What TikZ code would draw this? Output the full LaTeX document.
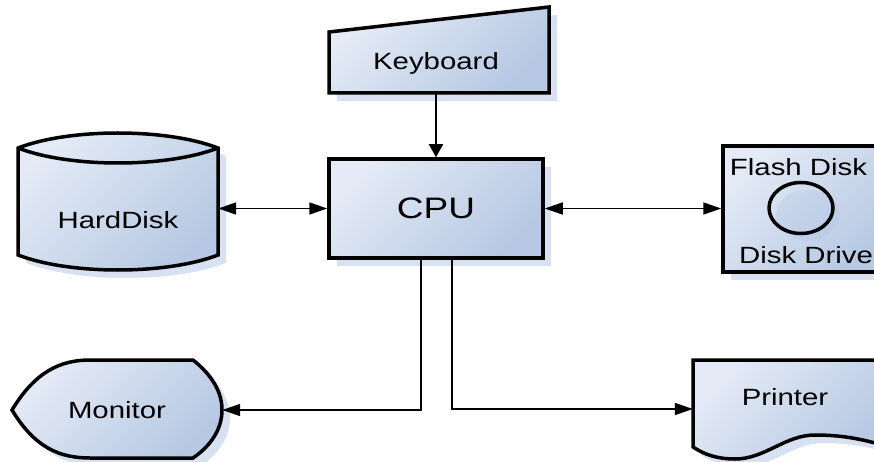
\documentclass[tikz,border=0pt]{standalone}
\usepackage{fontspec}
\setmainfont[FakeStretch=1.25]{Liberation Sans}
\usepackage{tikz}
\usetikzlibrary{arrows.meta, shadows, shapes.geometric, positioning}
\definecolor{boxlight}{HTML}{E4EBF6}
\definecolor{boxdark}{HTML}{B6C8E3}
\definecolor{boxshadow}{HTML}{D7E1F1}
\definecolor{discshadow}{HTML}{9DB3DA}

\begin{document}
\begin{tikzpicture}[x=1pt, y=-1pt,
    device/.style={draw=black, line width=3.5pt, top color=boxlight, bottom color=boxdark, shading angle=45,
      drop shadow={shadow xshift=8pt, shadow yshift=-8pt, fill=boxshadow, draw=none, opacity=1}},
    devtext/.style={font=\fontsize{23.5}{28}\selectfont, inner sep=0pt},
    link/.style={line width=1.7pt, >={Triangle[length=18pt, width=12pt]}},
    vlink/.style={line width=1.7pt, >={Triangle[length=13pt, width=14pt]}}
  ]
  \useasboundingbox (0,0) rectangle (874,462);
  % outlines
  \path[device] (329,32) -- (549,7) -- (549,93) -- (329,93) -- cycle;
  \path[device] (18,148) .. controls (70,128) and (166,128) .. (218,148) -- (218,255)
    .. controls (166,275) and (70,275) .. (18,255) -- cycle;
  \draw[line width=3.5pt] (18,148) .. controls (70,168) and (166,168) .. (218,148);
  \path[device] (12,410) .. controls (35,372) and (60,360) .. (90,360) -- (193,360)
    .. controls (212,375) and (222,392) .. (222,410) .. controls (222,428) and (212,445) .. (193,458)
    -- (90,458) .. controls (60,458) and (35,448) .. cycle;
  \path[device] (693,360) -- (890,360) -- (890,447) .. controls (865,440) and (845,435) .. (815,435)
    .. controls (785,435) and (765,459) .. (735,459) .. controls (718,459) and (705,455) .. (693,447) -- cycle;
  % devices
  \node[device, devtext, font=\fontsize{29.6}{34}\selectfont, minimum width=214pt, minimum height=99pt] (cpu) at (436,208.5) {CPU};
  \node[device, minimum width=167pt, minimum height=126pt] (fdd) at (806.5,209) {};
  \node[ellipse, draw, line width=3.5pt, minimum width=64pt, minimum height=51pt,
    drop shadow={shadow xshift=7pt, shadow yshift=-7pt, fill=discshadow, draw=none, opacity=.18}] (disc) at (801,208) {};
  \node[devtext] (fdtop) at (798.5,167) {Flash Disk};
  \node[devtext] (fdbot) at (806,255) {Disk Drive};
  \node[devtext, minimum height=60pt] (kbd) at (436,63) {Keyboard};
  \node[devtext, minimum width=200pt] (hdd) at (118,220) {HardDisk};
  \node[devtext, minimum width=210pt] (mon) at (117,410) {Monitor};
  \node[devtext, minimum width=184pt] (prn) at (785,397) {Printer};
  % connectors
  \draw[vlink, ->] (kbd) -- (cpu);
  \draw[link, <->] (hdd.east |- cpu) -- (cpu);
  \draw[link, <->] (cpu) -- (cpu -| fdd.west);
  \draw[link, ->] ([xshift=-15pt]cpu.south) |- (mon.east);
  \draw[link, ->] ([xshift=16pt]cpu.south) |- ([yshift=-12pt]prn.west);
\end{tikzpicture}
\end{document}
